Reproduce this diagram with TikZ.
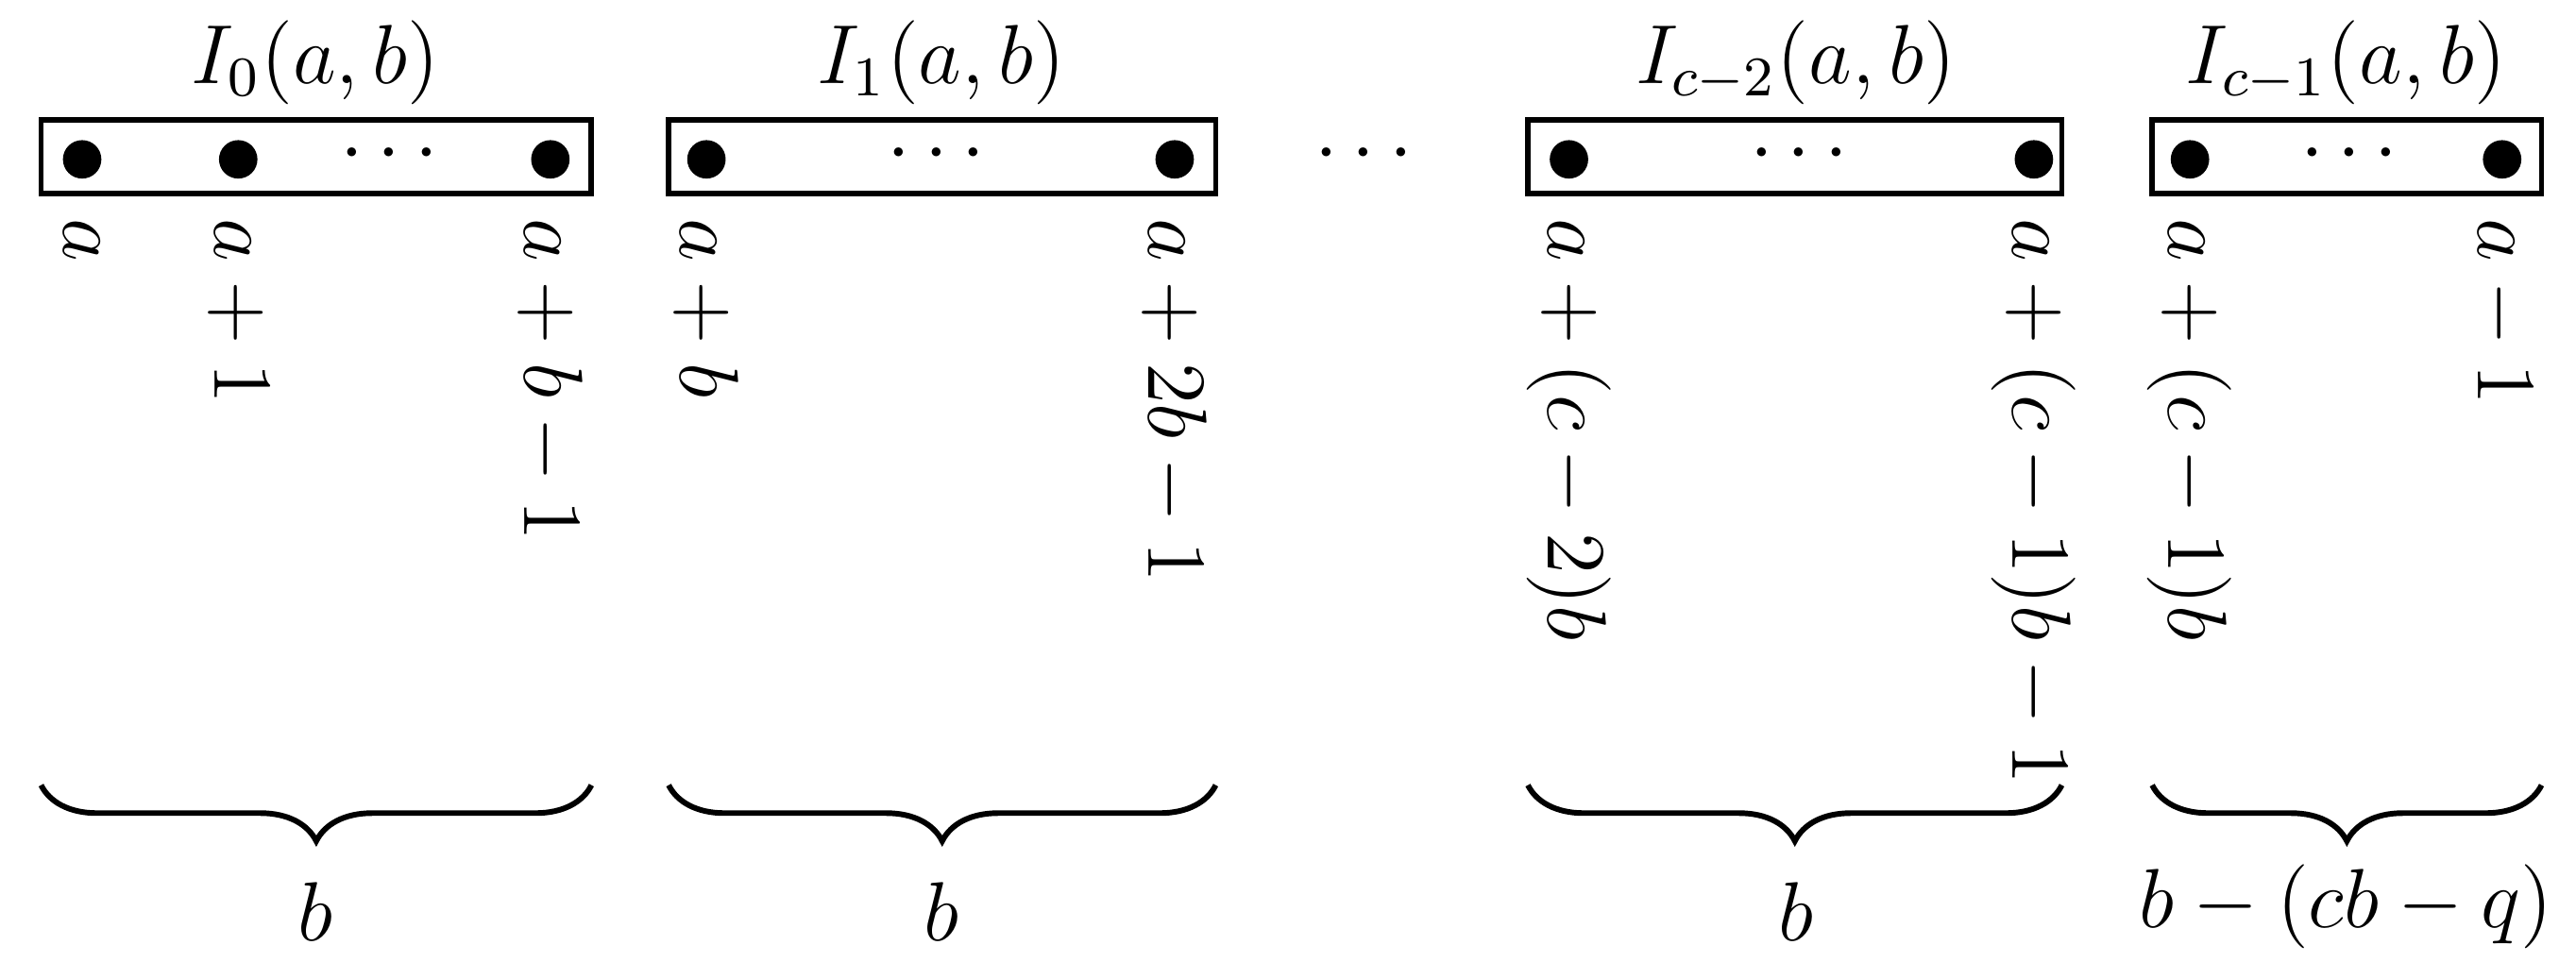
\documentclass[tikz,border=0pt]{standalone}
\usetikzlibrary{decorations.pathreplacing}
\begin{document}
\begin{tikzpicture}[x=0.235pt,y=-0.235pt,
  box/.style={draw,line width=0.8pt},
  dot/.style={circle,fill,inner sep=0pt,minimum size=5.5pt},
  lab/.style={rotate=-90,anchor=west,inner sep=1pt,font=\large},
  ttl/.style={font=\large},
  brc/.style={decorate,decoration={brace,mirror,amplitude=8pt},line width=0.8pt}]
\useasboundingbox (0,0) rectangle (1568,596);
\draw[box] (25,73) rectangle (360,118);
\draw[box] (407,73) rectangle (740,118);
\draw[box] (930,73) rectangle (1255,118);
\draw[box] (1310,73) rectangle (1547,118);
\node[ttl] (t0) at (192,38) {$I_0(a,b)$};
\node[ttl] (t1) at (573,38) {$I_1(a,b)$};
\node[ttl] (t2) at (1093,38) {$I_{c-2}(a,b)$};
\node[ttl] (t3) at (1428,38) {$I_{c-1}(a,b)$};
\foreach \n/\x in {d1/50,d2/145,d3/335,d4/430,d5/715,d6/955,d7/1238,d8/1333,d9/1523}
  \node[dot] (\n) at (\x,97) {};
\foreach \n/\x in {e1/237,e2/570,e3/830,e4/1095,e5/1430}
  \node[font=\large] (\n) at (\x,94) {$\cdots$};
\node[lab] (l1) at (50,128) {$a$};
\node[lab] (l2) at (145,128) {$a+1$};
\node[lab] (l3) at (335,128) {$a+b-1$};
\node[lab] (l4) at (430,128) {$a+b$};
\node[lab] (l5) at (715,128) {$a+2b-1$};
\node[lab] (l6) at (955,128) {$a+(c-2)b$};
\node[lab] (l7) at (1238,128) {$a+(c-1)b-1$};
\node[lab] (l8) at (1333,128) {$a+(c-1)b$};
\node[lab] (l9) at (1523,128) {$a-1$};
\draw[brc] (25,478) -- (360,478);
\draw[brc] (407,478) -- (740,478);
\draw[brc] (930,478) -- (1255,478);
\draw[brc] (1310,478) -- (1547,478);
\node[ttl] (b0) at (192,555) {$b$};
\node[ttl] (b1) at (573,555) {$b$};
\node[ttl] (b2) at (1093,555) {$b$};
\node[ttl] (b3) at (1428,552) {$b-(cb-q)$};
\end{tikzpicture}
\end{document}
